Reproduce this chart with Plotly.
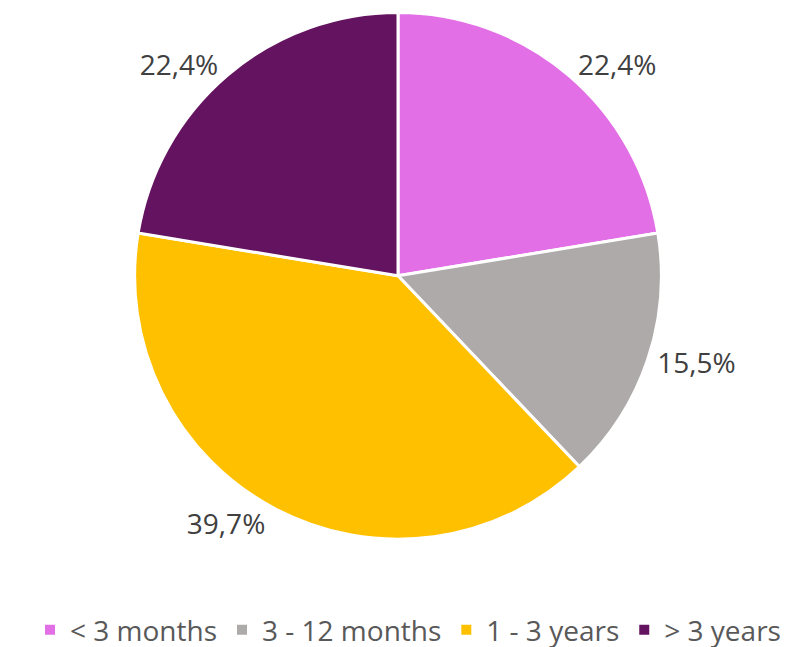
import plotly.graph_objects as go

categories = ["< 3 months", "3 - 12 months", "1 - 3 years", "> 3 years"]
values = [22.4, 15.5, 39.7, 22.4]
colors = ["#E36FE6", "#AEAAAA", "#FFC000", "#63135F"]

labels_text = [f"{v:.1f}%".replace(".", ",") for v in values]

fig = go.Figure(go.Pie(
    labels=categories,
    values=values,
    text=labels_text,
    texttemplate="%{text}",
    textposition="outside",
    textfont=dict(family="Open Sans", size=28, color="#404040"),
    marker=dict(colors=colors, line=dict(color="white", width=3)),
    sort=False,
    direction="clockwise",
    rotation=0,
    hole=0,
    domain=dict(x=[0.1395, 0.8355], y=[0.170, 0.993]),
    showlegend=True,
))

fig.update_layout(
    width=800, height=647,
    margin=dict(l=0, r=0, t=0, b=0),
    paper_bgcolor="white",
    plot_bgcolor="white",
    legend=dict(
        orientation="h",
        x=0.5, xanchor="center",
        y=0.028, yanchor="middle",
        font=dict(family="Open Sans", size=28, color="#595959"),
        itemsizing="constant",
    ),
)

fig.write_html("out.html")
